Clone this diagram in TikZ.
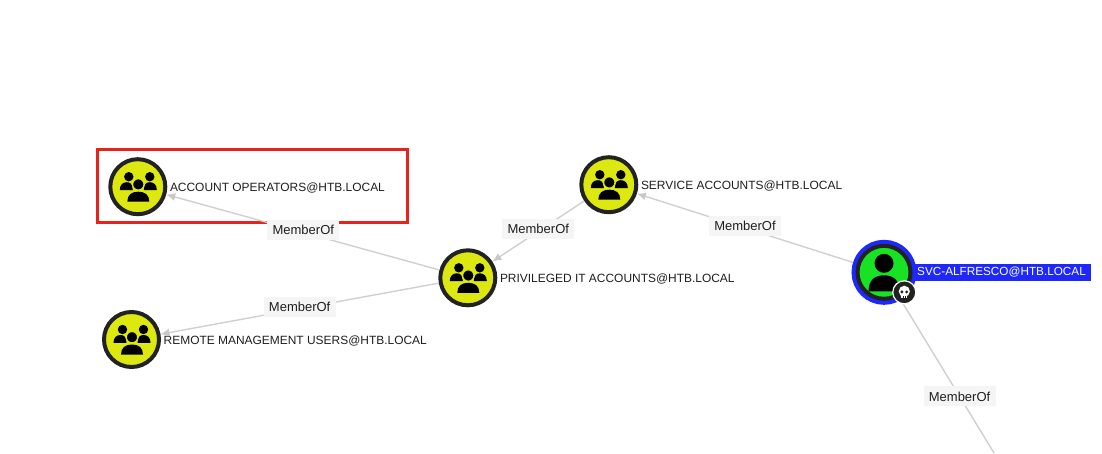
\documentclass[tikz,border=0pt]{standalone}
\usepackage{fontspec}
\setmainfont{Liberation Sans}
\usetikzlibrary{positioning, arrows.meta}
\definecolor{groupyellow}{RGB}{220,232,16}
\definecolor{usergreen}{RGB}{24,226,36}
\definecolor{ringdark}{RGB}{34,34,34}
\definecolor{pickblue}{RGB}{30,40,250}
\definecolor{edgegrey}{RGB}{208,208,208}
\definecolor{tipgrey}{RGB}{200,200,200}
\definecolor{labelgrey}{RGB}{245,245,245}
\definecolor{boxred}{RGB}{230,36,28}
\definecolor{textdark}{RGB}{30,30,30}

\tikzset{
  groupicon/.pic={
    \fill (-9,-10) circle (4.7);
    \fill (12,-10) circle (4.7);
    \fill (-18,3.3) .. controls (-18,-2) and (-15,-4.5) .. (-11,-4.5) .. controls (-8,-4.5) and (-5,-3) .. (-5,3.3) -- cycle;
    \fill (6,3.3) .. controls (6,-3) and (9,-4.5) .. (12,-4.5) .. controls (16,-4.5) and (19,-2) .. (19,3.3) -- cycle;
    \draw [groupyellow, fill=black, line width=1.4] (0.5,-2.3) circle (5.8);
    \fill (-10.5,15) .. controls (-10.5,8) and (-6,5) .. (0.5,5) .. controls (7,5) and (11.5,8) .. (11.5,15) -- cycle;
  },
  usericon/.pic={
    \fill (0,-9) circle (9.5);
    \fill (-15.5,19) .. controls (-15.5,8) and (-9.5,3) .. (0,3) .. controls (9.5,3) and (15.5,8) .. (15.5,19) -- cycle;
  },
  skullicon/.pic={
    \fill [white] (0,-1) circle (5.6);
    \fill [white] (-3,2) rectangle (3,5.6);
    \fill [ringdark] (-2.4,-0.4) circle (1.6);
    \fill [ringdark] (2.4,-0.4) circle (1.6);
    \fill [ringdark] (-1.2,4) rectangle (-0.7,5.6);
    \fill [ringdark] (0.7,4) rectangle (1.2,5.6);
  }
}

\begin{document}
\begin{tikzpicture}[x=1pt, y=-1pt, node distance=100pt]
\tikzstyle{group} = [circle, draw=ringdark, fill=groupyellow, line width=4pt, inner sep=0pt, minimum size=55pt]
\tikzstyle{user} = [circle, draw=ringdark, fill=usergreen, line width=4pt, inner sep=0pt, minimum size=53pt, outer sep=6pt, preaction={draw=pickblue, line width=12pt}]
\tikzstyle{badge} = [circle, draw=white, fill=ringdark, line width=1.2pt, inner sep=0pt, minimum size=23pt]
\tikzstyle{nametext} = [font=\fontsize{11.95}{14}\selectfont, text=textdark, inner sep=2pt, yshift=-1pt]
\tikzstyle{picked} = [font=\fontsize{11.75}{14}\selectfont, text=white, fill=pickblue, inner xsep=4.5pt, inner ysep=0pt, text width=169pt, align=left, minimum height=17.4pt]
\tikzstyle{edgelabel} = [font=\fontsize{13}{15}\selectfont, text=textdark, fill=labelgrey, minimum width=72pt, minimum height=20pt, inner sep=0pt]
\tikzstyle{arrow} = [edgegrey, line width=1.4pt, -{Latex[length=9pt, width=8pt, color=tipgrey]}]
\tikzstyle{redbox} = [rectangle, draw=boxred, line width=3pt, inner sep=0pt, minimum width=310pt, minimum height=73pt]

\useasboundingbox (0,0) rectangle (1102,453);

\node (priv) [group] at (467.8,277.8) {};
\node (acct) [group, left of=priv, xshift=-230pt, yshift=91.1pt] {};
\node (remote) [group, left of=priv, xshift=-236.3pt, yshift=-61.7pt] {};
\node (service) [group, right of=priv, xshift=41pt, yshift=93.1pt] {};
\node (svc) [user, right of=service, xshift=175.2pt, yshift=-87.6pt] {};
\coordinate (offpage) at (994,453);

\node (acctname) [nametext, right=0.5pt of acct] {ACCOUNT OPERATORS@HTB.LOCAL};
\node (remotename) [nametext, right=0.5pt of remote] {REMOTE MANAGEMENT USERS@HTB.LOCAL};
\node (privname) [nametext, right=0.5pt of priv] {PRIVILEGED IT ACCOUNTS@HTB.LOCAL};
\node (servicename) [nametext, right=0.5pt of service] {SERVICE ACCOUNTS@HTB.LOCAL};
\node (svcname) [picked, right=-4pt of svc] {SVC-ALFRESCO@HTB.LOCAL};

\node (pick) [redbox, right of=acct, xshift=14.2pt, yshift=0.4pt] {};

\pic at (priv) {groupicon};
\pic at (acct) {groupicon};
\pic at (remote) {groupicon};
\pic at (service) {groupicon};
\pic at (svc) {usericon};

\draw [arrow] (priv) -- node (privacct) [edgelabel, yshift=2pt, xshift=0.5pt] {MemberOf} (acct);
\draw [arrow] (priv) -- node (privremote) [edgelabel, yshift=2pt] {MemberOf} (remote);
\draw [arrow] (service) -- node (servicepriv) [edgelabel, yshift=2pt] {MemberOf} (priv);
\draw [arrow] (svc) -- node (svcservice) [edgelabel, yshift=2pt] {MemberOf} (service);
\draw [edgegrey, line width=1.4pt] (svc) -- node (svcout) [edgelabel, pos=0.63] {MemberOf} (offpage);

\node (skull) [badge, right of=svc, xshift=-79.7pt, yshift=-20pt] {};
\pic at (skull) {skullicon};
\end{tikzpicture}
\end{document}
